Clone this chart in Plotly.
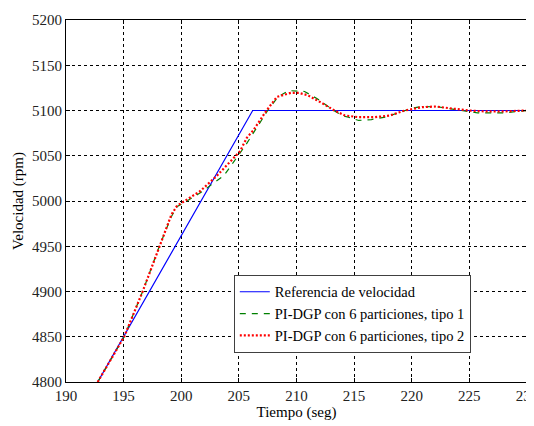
import plotly.graph_objects as go

# Referencia de velocidad
t_ref = [192.75, 206.2, 230]
v_ref = [4800, 5100, 5100]

# PI-DGP con 6 particiones, tipo 1
t_tipo1 = [192.75, 195.05, 196.65, 198.1, 199.15, 199.65, 200.1, 201.65, 203.7, 204.6,
           205.6, 206.5, 207.5, 208.4, 209.3, 210.7, 211.8, 213.0, 214.0, 214.5,
           215.4, 216.5, 217.8, 219.2, 220.0, 220.9, 222.3, 223.8, 225.0, 225.7, 228.0, 230.0]
v_tipo1 = [4800, 4850, 4900, 4950, 4983, 4994, 4997, 5009, 5028, 5044,
           5062, 5080, 5100, 5115, 5122, 5121, 5113, 5102, 5094, 5092.6,
           5089, 5090, 5093, 5099, 5102.6, 5104.4, 5104, 5101, 5098.5, 5097.4, 5097.4, 5100]

# PI-DGP con 6 particiones, tipo 2
t_tipo2 = [192.75, 195.05, 196.65, 198.1, 199.15, 199.65, 200.05, 201.65, 203.1, 205.1,
           205.7, 206.25, 207.4, 208.3, 209.5, 210.2, 210.95, 212.1, 213.3, 214.2,
           215.4, 216.8, 218.1, 219.4, 220.9, 222.1, 223.5, 224.9, 226.3, 228.0, 230.0]
v_tipo2 = [4800, 4850, 4900, 4950, 4985, 4995, 4998, 5011, 5028, 5055,
           5070, 5078, 5100, 5115, 5119.5, 5119.5, 5117, 5109, 5100, 5094.5,
           5092.6, 5092.6, 5094.5, 5100, 5103.7, 5104.4, 5102, 5100, 5099, 5099, 5100]

x_ticks = [190, 195, 200, 205, 210, 215, 220, 225, 230]
y_ticks = [4800, 4850, 4900, 4950, 5000, 5050, 5100, 5150, 5200]

FONT = "Times New Roman"

fig = go.Figure()
fig.add_trace(go.Scatter(x=t_ref, y=v_ref, mode="lines", name="Referencia de velocidad",
                         line=dict(color="#0000ff", width=1.2)))
fig.add_trace(go.Scatter(x=t_tipo1, y=v_tipo1, mode="lines", name="PI-DGP con 6 particiones, tipo 1",
                         line=dict(color="#008000", width=1.2, dash="6px,6px")))
fig.add_trace(go.Scatter(x=t_tipo2, y=v_tipo2, mode="lines", name="PI-DGP con 6 particiones, tipo 2",
                         line=dict(color="#ff0000", width=2.2, dash="2px,2px")))

axis_common = dict(
    showline=True, linecolor="black", linewidth=1, mirror="ticks",
    ticks="inside", ticklen=4, tickcolor="black",
    showgrid=True, gridcolor="black", gridwidth=1, griddash="3px,3px",
    zeroline=False, automargin=False,
    tickfont=dict(family=FONT, size=15, color="#222222"),
)

fig.update_layout(
    width=534, height=426,
    margin=dict(l=58, r=15, t=12, b=52, autoexpand=False),
    paper_bgcolor="white", plot_bgcolor="white",
    font=dict(family=FONT, size=15, color="black"),
    xaxis=dict(range=[190, 230.0001], tickvals=x_ticks, ticktext=[str(v) for v in x_ticks],
               title=dict(text="Tiempo (seg)", font=dict(family=FONT, size=15), standoff=2),
               **axis_common),
    yaxis=dict(range=[4800, 5200], tickvals=y_ticks, ticktext=[str(v) for v in y_ticks],
               title=dict(text="Velocidad (rpm)", font=dict(family=FONT, size=15), standoff=4),
               **axis_common),
    legend=dict(x=0.364, y=0.296, xanchor="left", yanchor="top",
                bgcolor="white", bordercolor="#404040", borderwidth=1,
                font=dict(family=FONT, size=14.5, color="black"),
                itemwidth=30, tracegroupgap=0),
    showlegend=True,
)

fig.write_html("out.html")
